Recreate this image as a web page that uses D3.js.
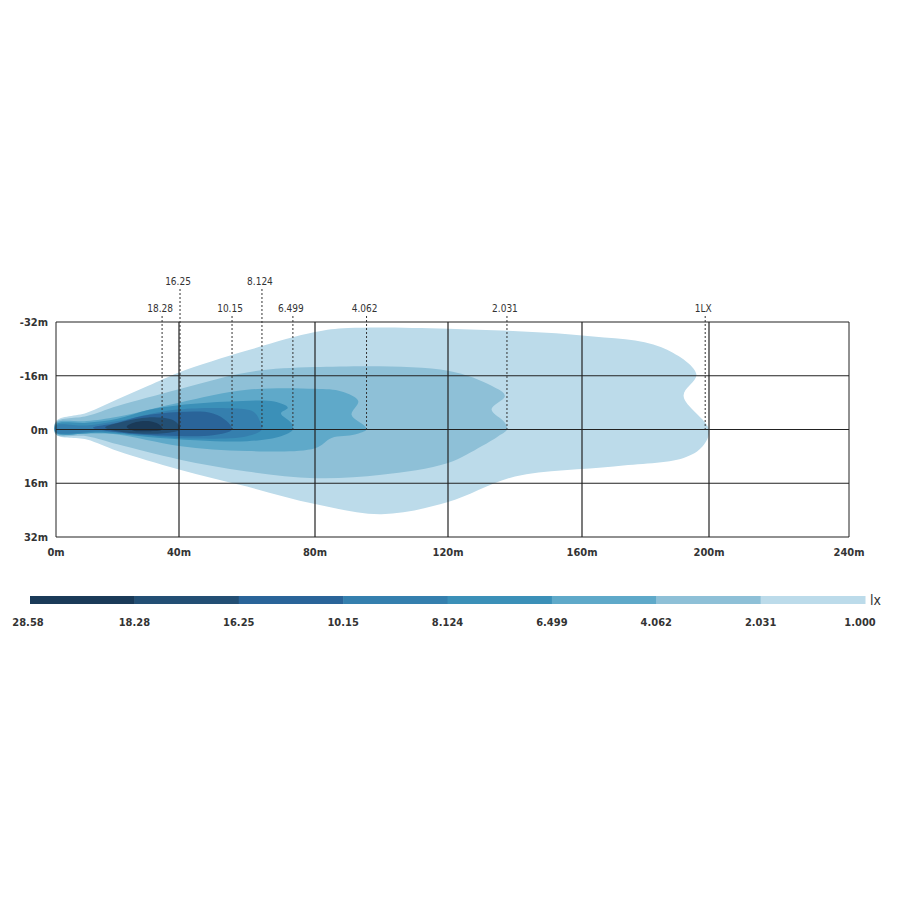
<!DOCTYPE html>
<html><head><meta charset="utf-8">
<script src="https://cdn.jsdelivr.net/npm/d3@7"></script>
<style>body{margin:0;background:#fff}</style>
</head><body>
<svg id="chart" width="900" height="900"></svg>
<script>
// axis ticks
var xTicks = [0, 40, 80, 120, 160, 200, 240];
var yTicks = [-32, -16, 0, 16, 32];

// legend
var legendLabels = ["28.58", "18.28", "16.25", "10.15", "8.124", "6.499", "4.062", "2.031", "1.000"];
var legendColors = ["#1a3a58", "#234f74", "#2a6499", "#357fae", "#3b90b8", "#5fa9c9", "#8ec0d7", "#bcdbea"];

// isolux contours, outer to inner: [distance m, lateral m]
var lux1 = [[0,-2.5],[10,-5],[20,-9],[30,-13],[40,-17],[60,-23.5],[80,-29],[90,-30.2],[120,-30],[160,-28],[185,-24.5],[196,-16.5],[192,-10],[200,0],[198,5],[192,8.5],[170,11],[140,14],[120,21.6],[100,25.2],[80,22.2],[60,17],[40,11.9],[20,6.4],[10,3],[0,1.5]];
var lux2 = [[0,-2.2],[10,-4],[20,-7],[40,-12],[60,-17],[80,-18.6],[120,-17.5],[133,-13],[137,-10],[133,-6],[137,-2],[137.6,0],[135,2],[130,5],[120,10],[100,13.5],[80,14.5],[60,12.5],[40,8.9],[20,4.4],[10,2],[0,1.5]];
var lux3 = [[0,-2],[10,-2.5],[20,-3.8],[40,-8],[60,-11.8],[80,-12.1],[88,-11.3],[93,-8.5],[91,-4.4],[95,-1],[95.5,0],[92,1.5],[85,2.5],[80,5.6],[60,6.4],[40,4.9],[20,1.5],[10,1.2],[0,1.2]];
var lux4 = [[0,-1.6],[10,-2],[20,-3.2],[30,-5.8],[40,-7.2],[55,-8.3],[68,-8.3],[72,-6.5],[70,-4.8],[73,-2],[73.5,0],[70,2],[60,3.5],[45,3.2],[30,2.2],[15,1],[0,1]];
var lux5 = [[0,-1.2],[10,-1.2],[20,-2.5],[30,-4.5],[40,-6],[55,-6.3],[62,-5.2],[64,-2],[64.4,0],[60,2],[45,2.7],[30,1.8],[15,0.6],[0,0.8]];
var lux6 = [[12,-0.5],[20,-2],[28,-4],[40,-5.2],[50,-4.8],[54,-2.5],[55.6,0],[50,1.7],[35,1.8],[20,0.8]];
var lux7 = [[16,-0.6],[22,-2.4],[30,-3.6],[38,-2.8],[40,-1.2],[40.3,0],[35,1.1],[22,0.8]];
var lux8 = [[23,-0.8],[26,-2.2],[31,-2.4],[34,-1.2],[34.5,0],[30,0.5],[25,0.3]];
var contours = [lux1, lux2, lux3, lux4, lux5, lux6, lux7, lux8];
var contourColors = ["#bcdbea", "#8ec0d7", "#5fa9c9", "#3b90b8", "#357fae", "#2a6499", "#234f74", "#1a3a58"];

// dotted marker labels: [label, distance, row]
var markerLabels = ["18.28", "16.25", "10.15", "8.124", "6.499", "4.062", "2.031", "1LX"];
var markerX = [34.5, 40.3, 55.6, 64.4, 73.5, 95.5, 137.6, 198.8];
var markerRow = [1, 0, 1, 0, 1, 1, 1, 1];

var svg = d3.select("#chart");
var font = "'DejaVu Sans Condensed', 'DejaVu Sans', sans-serif";

var x = d3.scaleLinear().domain(xTicks).range([56, 179, 315, 448, 582, 709, 849]);
var y = d3.scaleLinear().domain([-32, 32]).range([322, 537]);

var line = d3.line().x(d => x(d[0])).y(d => y(d[1])).curve(d3.curveCatmullRomClosed.alpha(0.5));

svg.selectAll("path.iso").data(contours).enter().append("path")
  .attr("d", d => line(d))
  .attr("fill", (d, i) => contourColors[i]);

// grid
svg.selectAll("line.gx").data(xTicks).enter().append("line")
  .attr("x1", d => x(d)).attr("x2", d => x(d)).attr("y1", y(-32)).attr("y2", y(32))
  .attr("stroke", "#222").attr("stroke-width", d => (d == 0 || d == 240) ? 1 : 1.2);
svg.selectAll("line.gy").data(yTicks).enter().append("line")
  .attr("x1", x(0)).attr("x2", x(240)).attr("y1", d => y(d)).attr("y2", d => y(d))
  .attr("stroke", "#222").attr("stroke-width", 1.2);

svg.selectAll("text.xl").data(xTicks).enter().append("text")
  .attr("x", d => x(d)).attr("y", 556).attr("text-anchor", "middle")
  .attr("font-family", font).attr("font-weight", "bold").attr("font-size", 11).attr("fill", "#333")
  .text(d => d + "m");
svg.selectAll("text.yl").data(yTicks).enter().append("text")
  .attr("x", 48).attr("y", d => y(d) + 4).attr("text-anchor", "end")
  .attr("font-family", font).attr("font-weight", "bold").attr("font-size", 11).attr("fill", "#333")
  .text(d => d + "m");

// markers
markerLabels.forEach(function(lab, i) {
  var top = markerRow[i] == 0 ? 289 : 316;
  svg.append("line").attr("x1", x(markerX[i])).attr("x2", x(markerX[i]))
    .attr("y1", top).attr("y2", y(0))
    .attr("stroke", "#333").attr("stroke-width", 1).attr("stroke-dasharray", "2,2");
  svg.append("text").attr("x", x(markerX[i]) - 2).attr("y", top - 4).attr("text-anchor", "middle")
    .attr("font-family", font).attr("font-size", 10).attr("fill", "#333").text(lab);
});

// legend
var lx = d3.scaleLinear().domain([0, legendColors.length]).range([30, 865]);
svg.selectAll("rect.lg").data(legendColors).enter().append("rect")
  .attr("x", (d, i) => lx(i)).attr("y", 596).attr("width", (d, i) => lx(i + 1) - lx(i) + 0.5).attr("height", 8)
  .attr("fill", d => d);
svg.selectAll("text.lg").data(legendLabels).enter().append("text")
  .attr("x", (d, i) => lx(i) + (i == 0 ? -2 : (i == 8 ? -5 : 0)))
  .attr("y", 626).attr("text-anchor", "middle")
  .attr("font-family", font).attr("font-weight", "bold").attr("font-size", 11).attr("fill", "#333")
  .text(d => d);
svg.append("text").attr("x", 870).attr("y", 605).attr("font-family", font).attr("font-size", 14)
  .attr("fill", "#333").text("lx");
</script>
</body></html>
